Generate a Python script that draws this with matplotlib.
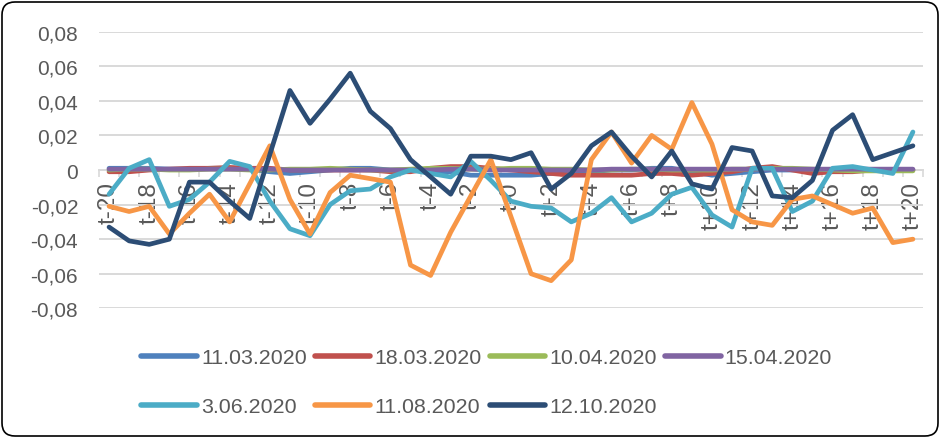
import numpy as np
import matplotlib
matplotlib.use("Agg")
import matplotlib.pyplot as plt
from matplotlib.patches import FancyBboxPatch
from matplotlib.transforms import IdentityTransform

plt.rcParams['font.family'] = ['Liberation Sans', 'DejaVu Sans']

# categories t-20 ... t+20
categories = [f"t-{abs(k)}" if k <= 0 else f"t+{k}" for k in range(-20, 21)]

y_ticks = [-0.08, -0.06, -0.04, -0.02, 0.0, 0.02, 0.04, 0.06, 0.08]
y_labels = ["-0,08", "-0,06", "-0,04", "-0,02", "0", "0,02", "0,04", "0,06", "0,08"]

s_1103 = [0.001, 0.001, 0.001, 0.0005, 0.0005, 0.001, 0.001, 0.0005,
          -0.001, -0.002, -0.001, 0.0, 0.001, 0.001, 0.0, 0.0,
          -0.001, -0.001, -0.003, -0.003, -0.003, -0.003, -0.002, -0.001,
          -0.001, 0.0, 0.0, 0.001, 0.001, -0.001, -0.003, -0.002,
          -0.001, 0.0, 0.0, 0.0, 0.0, 0.0, 0.0, 0.0, 0.0]
s_1803 = [-0.001, -0.001, 0.0, 0.0005, 0.001, 0.001, 0.0015, 0.001,
          0.001, 0.0, 0.0, 0.0, 0.0, 0.0, -0.001, -0.001,
          0.001, 0.002, 0.002, 0.001, 0.0, -0.001, -0.002, -0.003,
          -0.003, -0.003, -0.003, -0.002, -0.002, -0.003, -0.002, -0.001,
          0.001, 0.002, 0.0, -0.002, -0.001, -0.001, 0.0, 0.0, 0.0]
s_1004 = [0.0, 0.0005, 0.0005, 0.0, 0.0, 0.0005, 0.0005, 0.0,
          0.0, 0.0005, 0.0005, 0.001, 0.0005, 0.0, 0.0, 0.0005,
          0.001, 0.001, 0.0005, 0.0005, 0.001, 0.001, 0.0005, 0.0005,
          0.0, 0.0, 0.0005, 0.0005, 0.0, 0.0, 0.0, 0.0005,
          0.0005, 0.001, 0.001, 0.0005, 0.0, -0.0005, -0.0005, -0.0005, -0.0005]
s_1504 = [0.0005, 0.0005, 0.0005, 0.0005, 0.0005, 0.0005, 0.0005, 0.0005,
          0.0005, 0.0, 0.0, 0.0, 0.0, 0.0, 0.0, 0.0,
          0.0, 0.0005, 0.0005, 0.0, 0.0, 0.0, 0.0, 0.0,
          0.0, 0.0005, 0.0005, 0.0005, 0.0005, 0.0005, 0.0005, 0.0005,
          0.0005, 0.0005, 0.0005, 0.0005, 0.0005, 0.0005, 0.0005, 0.0005, 0.0005]
s_0306 = [-0.014, 0.001, 0.006, -0.021, -0.017, -0.007, 0.005, 0.002,
          -0.018, -0.034, -0.038, -0.020, -0.012, -0.011, -0.004, 0.000,
          -0.002, -0.004, 0.005, -0.006, -0.018, -0.021, -0.022, -0.030,
          -0.025, -0.016, -0.030, -0.025, -0.014, -0.010, -0.026, -0.033,
          0.001, 0.001, -0.024, -0.018, 0.001, 0.002, 0.000, -0.002, 0.022]
s_1108 = [-0.021, -0.024, -0.021, -0.037, -0.025, -0.014, -0.030, -0.008,
          0.014, -0.017, -0.037, -0.013, -0.003, -0.005, -0.007, -0.055,
          -0.061, -0.036, -0.015, 0.006, -0.027, -0.060, -0.064, -0.052,
          0.006, 0.022, 0.004, 0.020, 0.012, 0.039, 0.015, -0.023,
          -0.030, -0.032, -0.017, -0.015, -0.020, -0.025, -0.022, -0.042, -0.040]
s_1210 = [-0.033, -0.041, -0.043, -0.040, -0.007, -0.007, -0.018, -0.028,
          0.009, 0.046, 0.027, 0.041, 0.056, 0.034, 0.024, 0.006,
          -0.004, -0.014, 0.008, 0.008, 0.006, 0.010, -0.011, -0.002,
          0.014, 0.022, 0.008, -0.004, 0.011, -0.008, -0.011, 0.013,
          0.011, -0.015, -0.016, -0.006, 0.023, 0.032, 0.006, 0.010, 0.014]

series = [
    ("11.03.2020", s_1103, "#4F81BD"),
    ("18.03.2020", s_1803, "#C0504D"),
    ("10.04.2020", s_1004, "#9BBB59"),
    ("15.04.2020", s_1504, "#8064A2"),
    ("3.06.2020", s_0306, "#4BACC6"),
    ("11.08.2020", s_1108, "#F79646"),
    ("12.10.2020", s_1210, "#2C4D75"),
]

grey_txt = "#595959"
grid_c = "#D9D9D9"

fig = plt.figure(figsize=(9.42, 4.39), dpi=100)
ax = fig.add_axes([0.1051, 0.2954, 0.8747, 0.6301])

x = np.arange(len(categories))
handles = []
for name, vals, col in series:
    h, = ax.plot(x, vals, color=col, lw=3.4, label=name,
                 solid_joinstyle="round", solid_capstyle="round")
    handles.append(h)

ax.set_xlim(-0.5, len(categories) - 0.5)
ax.set_ylim(-0.08, 0.08)
ax.set_yticks(y_ticks, y_labels)
ax.yaxis.grid(True, color=grid_c, lw=1.4)
ax.set_axisbelow(True)

for sp in ("left", "right", "top"):
    ax.spines[sp].set_visible(False)
ax.spines["bottom"].set_position(("data", 0))
ax.spines["bottom"].set_color(grid_c)
ax.spines["bottom"].set_linewidth(1.4)
ax.spines["bottom"].set_zorder(0.5)

ax.set_xticks(x[::2], categories[::2], rotation=90)
ax.set_xticks(np.arange(-0.5, len(categories), 1), minor=True)
ax.tick_params(axis="x", which="major", length=0, pad=8, labelsize=17.5, labelcolor=grey_txt)
ax.tick_params(axis="x", which="minor", length=5, width=1.2, color=grid_c, direction="out")
ax.tick_params(axis="y", length=0, pad=15, labelsize=15, labelcolor=grey_txt)

# legend filled row by row: 4 on the first row, 3 on the second
order = [0, 4, 1, 5, 2, 6, 3]
leg = fig.legend([handles[i] for i in order], [series[i][0] for i in order],
                 ncol=4, loc="upper left", bbox_to_anchor=(141 / 942, 1 - 349 / 439),
                 frameon=False, fontsize=15.4, handlelength=2.6, handletextpad=0.2,
                 columnspacing=0.37, labelspacing=1.42, borderpad=0, borderaxespad=0)
for t in leg.get_texts():
    t.set_color(grey_txt)
for lh in leg.legend_handles:
    lh.set_linewidth(4)

border = FancyBboxPatch((2, 2), 936, 434, boxstyle="round,pad=0,rounding_size=13",
                        transform=IdentityTransform(), fill=False, ec="black", lw=1.2)
fig.add_artist(border)

fig.savefig("out.png", dpi=100)
